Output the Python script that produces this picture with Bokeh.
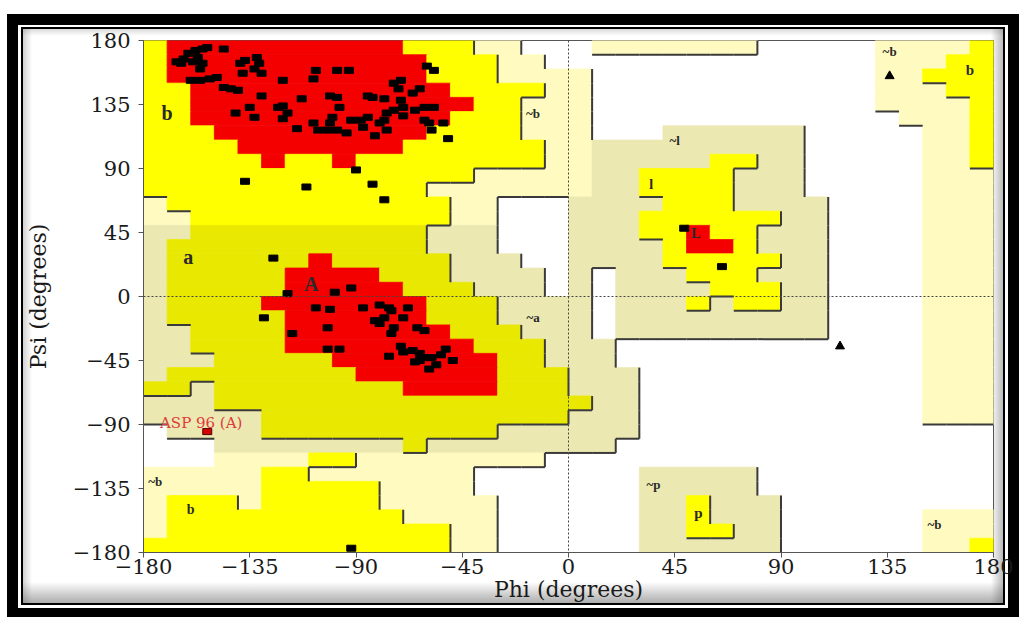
from bokeh.plotting import figure
from bokeh.models import FixedTicker, Span, ColumnDataSource
from bokeh.core.properties import value
from bokeh.embed import file_html
from bokeh.resources import INLINE

# ---------------- data ----------------
# Ramachandran region map, 10-degree cells, rows from psi=180 (top) down, cols from phi=-180.
# run-length coded: letter + count.  r core, y/o allowed, g/k generous, . disallowed
region_rows = [
    "y1 r10 y3 g2 .3 g7 .5 g4 y1",
    "y1 r11 y3 g2 .14 g3 y2",
    "y1 r11 y3 g4 .12 g2 y3",
    "y2 r11 y4 g2 .12 g3 y2",
    "y2 r12 y2 g3 .12 g4 y1",
    "y2 r11 y3 g3 .13 g3 y1",
    "y3 r9 y4 g3 .3 k6 .5 g2 y1",
    "y4 r7 y6 g2 k9 .5 g2 y1",
    "y5 r1 y2 r1 y8 g2 k5 y2 k2 .5 g2 y1",
    "y14 g5 k2 y4 k3 .5 g3",
    "y12 g7 k2 y4 k3 .5 g3",
    "g1 y12 g2 .3 k4 y3 k4 .4 g3",
    "g2 y11 g2 .3 k3 y6 k2 .4 g3",
    "k2 o10 k3 .3 k3 y2 r1 y2 k3 .4 g3",
    "k1 o11 k3 .3 k4 y1 r2 y1 k3 .4 g3",
    "k1 o6 r1 o5 k3 .2 k4 y5 k2 .4 g3",
    "k1 o5 r4 o3 k4 .1 k1 .1 k3 y3 k3 .4 g3",
    "k1 o5 r5 o3 k3 .1 k1 .1 k4 y3 k2 .4 g3",
    "k1 o4 r7 o3 k4 .1 k3 y1 k1 y2 k2 .4 g3",
    "k1 o5 r6 o3 k4 .1 k9 .4 g3",
    "k2 o4 r7 o3 k3 .1 k9 .4 g3",
    "k2 o4 r8 o3 k3 .13 g3",
    "k3 o5 r7 o2 k3 .13 g3",
    "k1 o8 r6 o3 k3 .12 g3",
    "o2 k1 o8 r4 o3 k3 .12 g3",
    "k3 o16 k2 .12 g3",
    "k5 o13 k3 .12 g3",
    ".1 k4 o10 k6 .15",
    ".3 k8 o1 k8 .16",
    ".3 g4 y2 g8 .19",
    "g5 y2 g7 .7 k5 .10",
    "g5 y5 g4 .7 k5 .10",
    "g1 y3 g1 y5 g5 .6 k2 y1 k3 .9",
    "g1 y10 g4 .6 k2 y1 k3 .6 g3",
    "g1 y12 g2 .6 k2 y2 k2 .6 g3",
    "y13 g2 .6 k6 .6 g2 y1",
]
region_colors = {"r": "#f40000", "y": "#ffff00", "o": "#e9e800",
                 "g": "#fffbc0", "k": "#ece8b2"}
region_level = {".": 0, "g": 1, "k": 1, "y": 2, "o": 2, "r": 3}

residue_phi = [-166, -163, -161, -158, -155, -153, -157, -159, -164, -146, -156, -155,
               -160, -156, -152, -149, -146, -143, -140, -139, -137, -132, -131, -133,
               -130, -138, -121, -130, -141, -135, -133, -123, -121, -119, -121, -113,
               -115, -107, -108, -98, -93, -101, -98, -97, -100, -101, -108, -106,
               -102, -98, -94, -92, -88, -85, -87, -83, -85, -78, -74, -71, -72, -71,
               -70, -74, -77, -78, -80, -77, -82, -70, -66, -63, -65, -61, -60, -57,
               -61, -59, -58, -53, -51, -57,
               -137, -111, -90, -83, -78,
               -125, -119, -99, -92, -129, -107, -101, -87, -80, -76, -75, -68, -82,
               -78, -80, -70, -74, -75, -64, -61, -117, -102, -102, -97, -76, -70, -66,
               -63, -61, -63, -58, -54, -52, -49, -56, -59, -65, -71,
               -92, 49, 65]
residue_psi = [165, 167, 171, 173, 174, 175, 168, 165, 164, 174, 160, 164,
               152, 152, 153, 154, 147, 146, 145, 164, 166, 168, 164, 160,
               157, 157, 152, 141, 129, 133, 126, 133, 134, 129, 125, 139,
               118, 159, 153, 159, 159, 141, 140, 133, 126, 122, 122, 117,
               117, 117, 115, 124, 124, 126, 119, 140, 141, 139, 150, 152, 146, 138,
               133, 131, 129, 124, 122, 117, 113, 127, 143, 146, 131, 133, 162, 159,
               124, 122, 117, 122, 111, 133,
               81, 77, 89, 79, 68,
               27, 2, 3, 6, -15, -8, -9, -8, -6, -8, -10, -8, -17,
               -15, -19, -15, -22, -26, -22, -24, -26, -22, -37, -37, -42, -39, -38,
               -40, -43, -45, -43, -41, -37, -45, -48, -51, -46, -35,
               -177, 48, 21]

gly_phi = [136, 115]
gly_psi = [155, -35]

flag_phi = [-153]
flag_psi = [-95]
flag_name = ["ASP 96 (A)"]
flag_text_phi = [-173]
flag_text_psi = [-89]

label_text = ["b", "a", "A", "~b", "~a", "~l", "l", "L", "~p", "p", "~b", "b", "~b", "b", "~b"]
label_phi = [-170, -161, -109, -15, -15, 45, 35, 54, 36, 55, 136, 170, -175, -160, 155]
label_psi = [129, 28, 9, 129, -15, 110, 79, 44, -132, -152, 172, 159, -130, -150, -160]
label_size = ["20px", "20px", "20px", "13px", "13px", "13px", "14px", "14px", "13px",
              "15px", "13px", "15px", "13px", "14px", "13px"]

ticks = [-180, -135, -90, -45, 0, 45, 90, 135, 180]

# ---------------- build region geometry from the map ----------------
grid = []
for row in region_rows:
    cells = []
    for tok in row.split():
        cells += [tok[0]] * int(tok[1:])
    assert len(cells) == 36, row
    grid.append(cells)

q = dict(left=[], right=[], top=[], bottom=[], color=[])
for r, cells in enumerate(grid):
    c = 0
    while c < 36:
        ch = cells[c]
        c2 = c
        while c2 + 1 < 36 and cells[c2 + 1] == ch:
            c2 += 1
        if ch != ".":
            q["left"].append(-180 + 10 * c)
            q["right"].append(-170 + 10 * c2)
            q["top"].append(180 - 10 * r)
            q["bottom"].append(170 - 10 * r)
            q["color"].append(region_colors[ch])
        c = c2 + 1

seg = dict(x0=[], y0=[], x1=[], y1=[])
for r in range(36):
    for c in range(36):
        lv = region_level[grid[r][c]]
        if lv not in (1, 2):
            continue
        if c < 35 and region_level[grid[r][c + 1]] < lv:
            xx = -170 + 10 * c
            seg["x0"].append(xx); seg["x1"].append(xx)
            seg["y0"].append(180 - 10 * r); seg["y1"].append(170 - 10 * r)
        if r < 35 and region_level[grid[r + 1][c]] < lv:
            yy = 170 - 10 * r
            seg["x0"].append(-180 + 10 * c); seg["x1"].append(-170 + 10 * c)
            seg["y0"].append(yy); seg["y1"].append(yy)

# ---------------- page frame (CSS background of the figure element) ----------------
def solid(x, y, w, h, col="#000"):
    return f"linear-gradient({col},{col}) {x}px {y}px / {w}px {h}px no-repeat"

def fade(direction, x, y, w, h, a):
    return (f"linear-gradient(to {direction}, rgba(90,90,90,0), rgba(90,90,90,{a})) "
            f"{x}px {y}px / {w}px {h}px no-repeat")

frame_layers = [
    # outer thick band
    solid(7, 14, 11, 603), solid(7, 14, 1012, 11),
    solid(1008, 14, 11, 603), solid(7, 608, 1012, 9),
    # inner thin line
    solid(21, 27, 2, 578), solid(21, 27, 984, 2),
    solid(1003, 27, 2, 578), solid(21, 603, 984, 2),
    # inner shadow
    fade("bottom", 23, 582, 980, 21, 0.5), fade("left", 23, 29, 9, 574, 0.28),
    fade("top", 23, 29, 980, 7, 0.22), fade("right", 991, 29, 12, 574, 0.42),
    "#ffffff",
]

# ---------------- figure ----------------
W, H = 1022, 619
FL, FR, FT, FB = 143, 993, 40, 552
p = figure(width=W, height=H, x_range=(-180, 180), y_range=(-180, 180),
           output_backend="svg", toolbar_location=None,
           min_border_left=FL, min_border_right=W - FR, min_border_top=FT,
           min_border_bottom=H - FB,
           x_axis_label="Phi (degrees)", y_axis_label="Psi (degrees)")
p.styles = {"background": ", ".join(frame_layers)}
p.grid.visible = False
p.background_fill_color = "white"
p.border_fill_color = None
p.outline_line_color = "#555555"
p.outline_line_width = 1

src = ColumnDataSource(q)
p.quad(left="left", right="right", top="top", bottom="bottom", source=src,
       fill_color="color", line_color="color", line_width=0.8)
p.segment(x0="x0", y0="y0", x1="x1", y1="y1", source=ColumnDataSource(seg),
          line_color="#3a3a3a", line_width=2)

p.add_layout(Span(location=0, dimension="height", line_color="#444444",
                  line_dash="2 2", line_width=1))
p.add_layout(Span(location=0, dimension="width", line_color="#444444",
                  line_dash="2 2", line_width=1))

p.rect(x=residue_phi, y=residue_psi, width=9, height=6, width_units="screen",
       height_units="screen", fill_color="black", line_color="black")
p.scatter(x=gly_phi, y=gly_psi, marker="triangle", size=9, fill_color="black",
          line_color="black")
p.rect(x=flag_phi, y=flag_psi, width=9, height=6, width_units="screen",
       height_units="screen", fill_color="#d40000", line_color="#500000")
p.text(x=flag_text_phi, y=flag_text_psi, text=flag_name, text_font=value("DejaVu Serif"),
       text_font_size="15px", text_color="#e03a3a", text_align="left",
       text_baseline="middle")

lab = ColumnDataSource(dict(x=label_phi, y=label_psi, t=label_text, s=label_size))
p.text(x="x", y="y", text="t", text_font_size="s", source=lab,
       text_font=value("Liberation Serif"), text_font_style="bold",
       text_color="#2a2a2a", text_align="center", text_baseline="middle")

for ax in (p.xaxis, p.yaxis):
    ax.ticker = FixedTicker(ticks=ticks)
    ax.minor_tick_line_color = None
    ax.major_tick_out = 5
    ax.major_tick_in = 0
    ax.axis_line_color = "#555555"
    ax.major_tick_line_color = "#555555"
    ax.major_label_text_font = "DejaVu Serif"
    ax.major_label_text_font_size = "21px"
    ax.major_label_text_color = "#1a1a1a"
    ax.axis_label_text_font = "DejaVu Serif"
    ax.axis_label_text_font_size = "22px"
    ax.axis_label_text_font_style = "normal"
    ax.axis_label_text_color = "#1a1a1a"
p.xaxis.major_label_standoff = 1
p.xaxis.axis_label_standoff = 0
p.yaxis.major_label_standoff = 8
p.yaxis.axis_label_standoff = 19

open("out.html", "w").write(file_html(p, INLINE))
